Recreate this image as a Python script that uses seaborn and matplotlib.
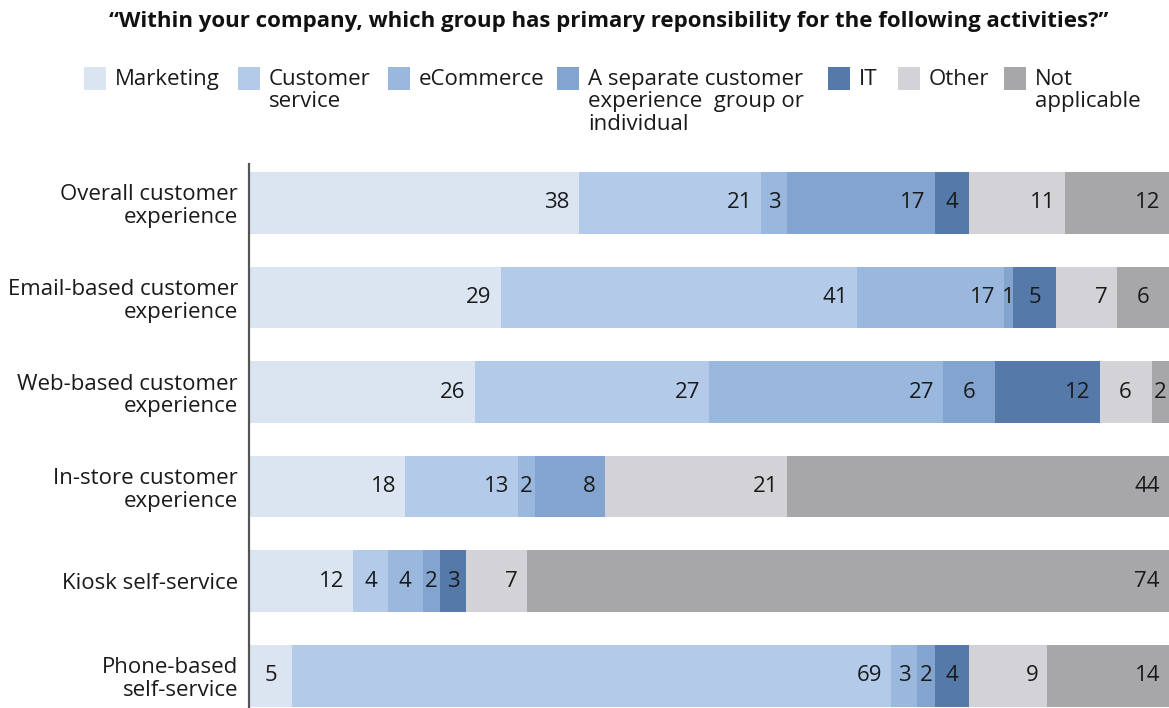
import matplotlib
matplotlib.use("Agg")
import matplotlib.pyplot as plt
from matplotlib.patches import Rectangle
import seaborn as sns
import pandas as pd
import numpy as np
import logging
logging.getLogger("matplotlib.font_manager").setLevel(logging.ERROR)

# ---- data ----
categories = [
    "Overall customer\nexperience",
    "Email-based customer\nexperience",
    "Web-based customer\nexperience",
    "In-store customer\nexperience",
    "Kiosk self-service",
    "Phone-based\nself-service",
]
series_names = [
    "Marketing",
    "Customer\nservice",
    "eCommerce",
    "A separate customer\nexperience  group or\nindividual",
    "IT",
    "Other",
    "Not\napplicable",
]
marketing = [38, 29, 26, 18, 12, 5]
customer_service = [21, 41, 27, 13, 4, 69]
ecommerce = [3, 17, 27, 2, 4, 3]
separate_group = [17, 1, 6, 8, 2, 2]
it = [4, 5, 12, 0, 3, 4]
other = [11, 7, 6, 21, 7, 9]
not_applicable = [12, 6, 2, 44, 74, 14]
title = "\u201cWithin your company, which group has primary reponsibility for the following activities?\u201d"

colors = ["#dae5f1", "#b3cbe9", "#9ab7de", "#82a4cf", "#5579a9", "#d2d2d7", "#a7a7a9"]

series = [marketing, customer_service, ecommerce, separate_group, it, other, not_applicable]

sns.set_style("white")
plt.rcParams["font.family"] = ["Open Sans", "DejaVu Sans"]
num_family = ["Liberation Sans Narrow", "Open Sans", "DejaVu Sans"]

W, H = 1169, 708
fig = plt.figure(figsize=(W / 100, H / 100), dpi=100)
ax = fig.add_axes([249 / W, 0, 920 / W, 1 - 164 / H])

vals = np.array(series, dtype=float)  # shape (7, 6)
cum = np.cumsum(vals, axis=0)
df = pd.DataFrame({"category": categories})

# draw cumulative bars from the longest to the shortest so they stack
for k in range(len(series) - 1, -1, -1):
    df["v"] = cum[k]
    sns.barplot(data=df, x="v", y="category", orient="h", color=colors[k],
                width=0.65, linewidth=0, saturation=1, ax=ax, order=categories)

# value labels: right end of wide segments, centred in narrow ones
for k in range(len(series)):
    for i in range(len(categories)):
        v = vals[k, i]
        if v <= 0:
            continue
        if v <= 6:
            ax.annotate(f"{int(v)}", xy=(cum[k, i] - v / 2, i), ha="center",
                        va="center", fontsize=16, color="#1a1a1a",
                        family=num_family)
        else:
            ax.annotate(f"{int(v)}", xy=(cum[k, i], i), xytext=(-6.5, 0),
                        textcoords="offset points", ha="right", va="center",
                        fontsize=16, color="#1a1a1a", family=num_family)

ax.set_xlim(0, 106)
ax.set_ylim(5.34, -0.41)
ax.set_xlabel("")
ax.set_ylabel("")
ax.set_xticks([])
ax.tick_params(axis="y", length=0, pad=8, labelsize=16, labelcolor="#1a1a1a")
ax.set_yticks(range(len(categories)))
ax.set_yticklabels(categories, linespacing=1.12)
for s in ["top", "right", "bottom"]:
    ax.spines[s].set_visible(False)
ax.spines["left"].set_color("#555555")
ax.spines["left"].set_linewidth(1.6)

# legend (manual layout to match top-aligned multi-line labels)
patch_x = [84, 238, 388, 557, 828, 898, 1004]
for lab, col, px in zip(series_names, colors, patch_x):
    fig.add_artist(Rectangle((px / W, 1 - 90 / H), 22 / W, 23 / H,
                             transform=fig.transFigure, color=col, lw=0))
    fig.text((px + 31) / W, 1 - 69 / H, lab, ha="left", va="top",
             fontsize=16, linespacing=1.08, color="#1a1a1a")

fig.text(609 / W, 1 - 22 / H, title, ha="center", va="center",
         fontsize=16, fontweight="bold", color="#111111")

fig.savefig("out.png", dpi=100, facecolor="white")
